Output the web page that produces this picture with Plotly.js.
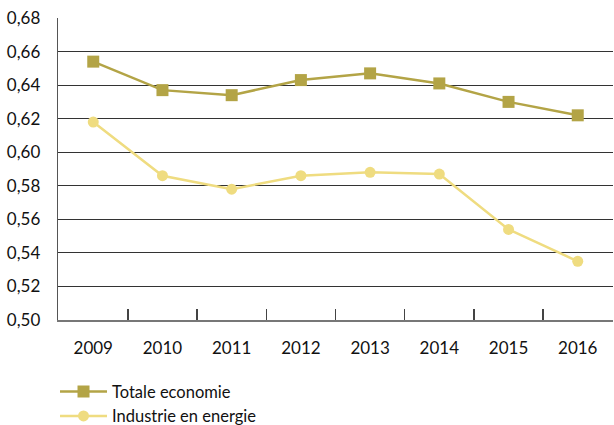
<!DOCTYPE html>
<html>
<head>
<meta charset="utf-8">
<script src="https://cdn.plot.ly/plotly-3.0.1.min.js"></script>
<style>html,body{margin:0;padding:0;background:#fff;}#chart{width:614px;height:425px;}</style>
</head>
<body>
<div id="chart"></div>
<script>
const years = ['2009','2010','2011','2012','2013','2014','2015','2016'];
const totaleEconomie = [0.654, 0.637, 0.634, 0.643, 0.647, 0.641, 0.630, 0.622];
const industrieEnergie = [0.618, 0.586, 0.578, 0.586, 0.588, 0.587, 0.554, 0.535];
const yTicks = [0.50,0.52,0.54,0.56,0.58,0.60,0.62,0.64,0.66,0.68];

const font = 'Lato, "Open Sans", sans-serif';
const traces = [
  {x: years, y: totaleEconomie, name: 'Totale economie', type: 'scatter', mode: 'lines+markers',
   line: {color: '#b3a446', width: 2.5}, marker: {symbol: 'square', size: 12, color: '#b3a446'}},
  {x: years, y: industrieEnergie, name: 'Industrie en energie', type: 'scatter', mode: 'lines+markers',
   line: {color: '#efdc80', width: 2.5}, marker: {symbol: 'circle', size: 11, color: '#efdc80'}}
];
const layout = {
  width: 614, height: 425,
  margin: {l: 58, r: 1, t: 18, b: 105, autoexpand: false},
  paper_bgcolor: '#fff', plot_bgcolor: '#fff',
  separators: ', ',
  font: {family: font, size: 17, color: '#111'},
  showlegend: true,
  legend: {orientation: 'v', xref: 'container', yref: 'container', x: 0.0896, y: 0.1195, xanchor: 'left', yanchor: 'top',
           font: {family: font, size: 16.5, color: '#111'}, tracegroupgap: 0, itemwidth: 47},
  xaxis: {type: 'category', showgrid: false, showline: true, linecolor: '#777', linewidth: 1.5,
          ticks: 'inside', tickson: 'boundaries', ticklen: 11, tickcolor: '#444', tickwidth: 1.3,
          tickangle: 0, automargin: false,
          ticklabelstandoff: 12, tickfont: {size: 17}, mirror: false},
  yaxis: {range: [0.50, 0.68], tickvals: yTicks, tickformat: '.2f', showgrid: true, gridcolor: '#333', gridwidth: 1,
          zeroline: false, showline: true, linecolor: '#555', linewidth: 1.3, ticks: '', automargin: false,
          ticklabelstandoff: 13, tickfont: {size: 17}}
};
Plotly.newPlot('chart', traces, layout, {displayModeBar: false, staticPlot: true});
</script>
</body>
</html>
